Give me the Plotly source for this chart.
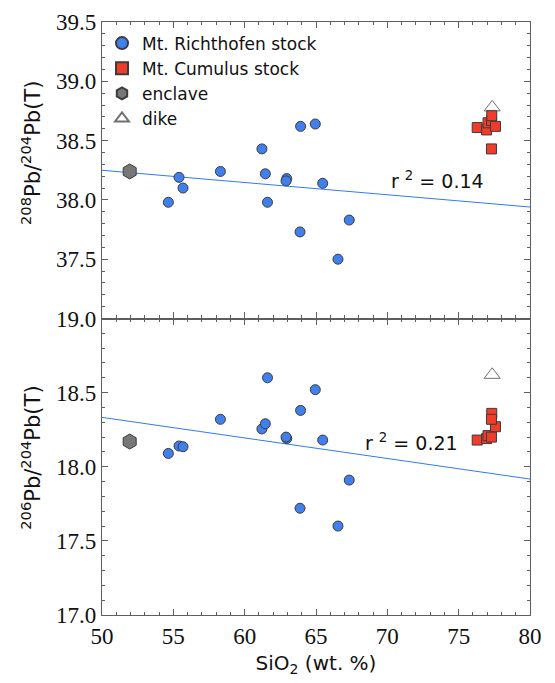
import plotly.graph_objects as go

# ---------------- data ----------------
richt_sio2 = [54.65, 55.4, 55.68, 58.3, 61.21, 61.45, 61.6, 62.95, 62.9, 63.92, 64.95, 65.47, 67.33, 63.88, 66.54]
richt_pb208 = [37.98, 38.19, 38.10, 38.24, 38.43, 38.22, 37.98, 38.18, 38.16, 38.62, 38.64, 38.14, 37.83, 37.73, 37.50]
richt_pb206 = [18.09, 18.14, 18.135, 18.32, 18.255, 18.29, 18.60, 18.19, 18.20, 18.38, 18.52, 18.18, 17.91, 17.72, 17.60]

cumul_sio2 = [76.3, 76.96, 77.06, 77.3, 77.58, 77.32, 77.3]
cumul_pb208 = [38.61, 38.59, 38.65, 38.67, 38.62, 38.71, 38.43]
cumul_pb206 = [18.18, 18.19, 18.21, 18.20, 18.27, 18.36, 18.32]

encl_sio2 = [51.94]
encl_pb208 = [38.24]
encl_pb206 = [18.17]

dike_sio2 = [77.35]
dike_pb208 = [38.78]
dike_pb206 = [18.62]

trend_sio2 = [50, 80]
trend_pb208 = [38.25, 37.94]
trend_pb206 = [18.333, 17.917]

r2_labels = ["r <sup>2</sup> = 0.14", "r <sup>2</sup> = 0.21"]
r2_pos_208 = (73.5, 38.17)
r2_pos_206 = (71.7, 18.17)

x_ticks = [50, 55, 60, 65, 70, 75, 80]
y208_ticks = [37.5, 38.0, 38.5, 39.0, 39.5]
y206_ticks = [17.0, 17.5, 18.0, 18.5, 19.0]

# ---------------- style ----------------
BLUE = "#3f80ee"
RED = "#f13b2b"
OUT = "#3c3c3c"
FRAME = "#5e5e5e"
SANS = "DejaVu Sans"
SERIF = "Liberation Serif"

fig = go.Figure()

circle = dict(symbol="circle", size=10, color=BLUE, line=dict(color=OUT, width=1))
square = dict(symbol="square", size=10, color=RED, line=dict(color=OUT, width=1))
hexa = dict(symbol="hexagon", size=15, color="#777777", line=dict(color=OUT, width=1))
tri = dict(symbol="triangle-up", size=14, color="white", line=dict(color="#707070", width=1))

# trend lines
fig.add_trace(go.Scatter(x=trend_sio2, y=trend_pb208, mode="lines", line=dict(color="#2f7bf5", width=1),
                         xaxis="x2", yaxis="y2", showlegend=False, hoverinfo="skip"))
fig.add_trace(go.Scatter(x=trend_sio2, y=trend_pb206, mode="lines", line=dict(color="#2f7bf5", width=1),
                         xaxis="x", yaxis="y", showlegend=False, hoverinfo="skip"))

# dike (drawn first, behind squares)
fig.add_trace(go.Scatter(x=dike_sio2, y=dike_pb208, mode="markers", marker=tri, name="dike",
                         xaxis="x2", yaxis="y2", legendgroup="dike", legendrank=4))
fig.add_trace(go.Scatter(x=dike_sio2, y=dike_pb206, mode="markers", marker=tri, name="dike",
                         xaxis="x", yaxis="y", legendgroup="dike", showlegend=False))

# enclave
fig.add_trace(go.Scatter(x=encl_sio2, y=encl_pb208, mode="markers", marker=hexa, name="enclave",
                         xaxis="x2", yaxis="y2", legendgroup="encl", legendrank=3))
fig.add_trace(go.Scatter(x=encl_sio2, y=encl_pb206, mode="markers", marker=hexa, name="enclave",
                         xaxis="x", yaxis="y", legendgroup="encl", showlegend=False))

# Richthofen
fig.add_trace(go.Scatter(x=richt_sio2, y=richt_pb208, mode="markers", marker=circle, name="Mt. Richthofen stock",
                         xaxis="x2", yaxis="y2", legendgroup="r", legendrank=1))
fig.add_trace(go.Scatter(x=richt_sio2, y=richt_pb206, mode="markers", marker=circle, name="Mt. Richthofen stock",
                         xaxis="x", yaxis="y", legendgroup="r", showlegend=False))

# Cumulus
fig.add_trace(go.Scatter(x=cumul_sio2, y=cumul_pb208, mode="markers", marker=square, name="Mt. Cumulus stock",
                         xaxis="x2", yaxis="y2", legendgroup="c", legendrank=2))
fig.add_trace(go.Scatter(x=cumul_sio2, y=cumul_pb206, mode="markers", marker=square, name="Mt. Cumulus stock",
                         xaxis="x", yaxis="y", legendgroup="c", showlegend=False))


def tick_font():
    return dict(family=SERIF, size=23, color="#111111")


def x_axis(**extra):
    d = dict(range=[50, 80], tickmode="array", tickvals=x_ticks, ticks="inside", ticklen=6, tickwidth=1.2,
             tickcolor=FRAME, showline=True, linecolor=FRAME, linewidth=1.2, mirror="ticks",
             showgrid=False, zeroline=False, automargin=False, tickfont=tick_font(),
             minor=dict(ticks="inside", dtick=1, ticklen=3, tickcolor=FRAME, tickwidth=1))
    d.update(extra)
    return d


def y_axis(rng, vals, **extra):
    d = dict(range=rng, tickmode="array", tickvals=vals, tickformat=".1f", ticks="inside", ticklen=6,
             tickwidth=1.2, tickcolor=FRAME, showline=True, linecolor=FRAME, linewidth=1.2, mirror="ticks",
             showgrid=False, zeroline=False, automargin=False, tickfont=tick_font(),
             minor=dict(ticks="inside", dtick=0.1, ticklen=3, tickcolor=FRAME, tickwidth=1))
    d.update(extra)
    return d


fig.update_layout(
    template="none",
    width=555, height=683,
    margin=dict(l=102, r=25, t=22, b=68),
    paper_bgcolor="white", plot_bgcolor="white",
    font=dict(family=SERIF, size=23, color="#111111"),
    showlegend=True,
    legend=dict(x=0.0, y=0.994, xanchor="left", yanchor="top", bgcolor="rgba(0,0,0,0)", borderwidth=0,
                font=dict(family=SANS, size=17, color="#111111"), tracegroupgap=0,
                itemsizing="constant"),
    xaxis=x_axis(anchor="y", domain=[0, 1],
                 title=dict(text="SiO<sub>2</sub> (wt. %)", font=dict(family=SANS, size=20, color="#111111"),
                            standoff=8)),
    xaxis2=x_axis(anchor="y2", domain=[0, 1], showticklabels=False),
    yaxis=y_axis([17.0, 19.0], y206_ticks, anchor="x", domain=[0, 0.5]),
    yaxis2=y_axis([37.0, 39.5], y208_ticks, anchor="x2", domain=[0.5, 1]),
)

ann_font = dict(family=SANS, size=19, color="#111111")
fig.add_annotation(x=r2_pos_208[0], y=r2_pos_208[1], xref="x2", yref="y2", text=r2_labels[0],
                   showarrow=False, font=ann_font)
fig.add_annotation(x=r2_pos_206[0], y=r2_pos_206[1], xref="x", yref="y", text=r2_labels[1],
                   showarrow=False, font=ann_font)

title_font = dict(family=SANS, size=21, color="#111111")
fig.add_annotation(x=-0.166, y=0.779, xref="paper", yref="paper", textangle=-90,
                   text="<sup>208</sup>Pb/<sup>204</sup>Pb(T)", showarrow=False, font=title_font,
                   xanchor="center", yanchor="middle")
fig.add_annotation(x=-0.166, y=0.265, xref="paper", yref="paper", textangle=-90,
                   text="<sup>206</sup>Pb/<sup>204</sup>Pb(T)", showarrow=False, font=title_font,
                   xanchor="center", yanchor="middle")

fig.write_html("out.html")
